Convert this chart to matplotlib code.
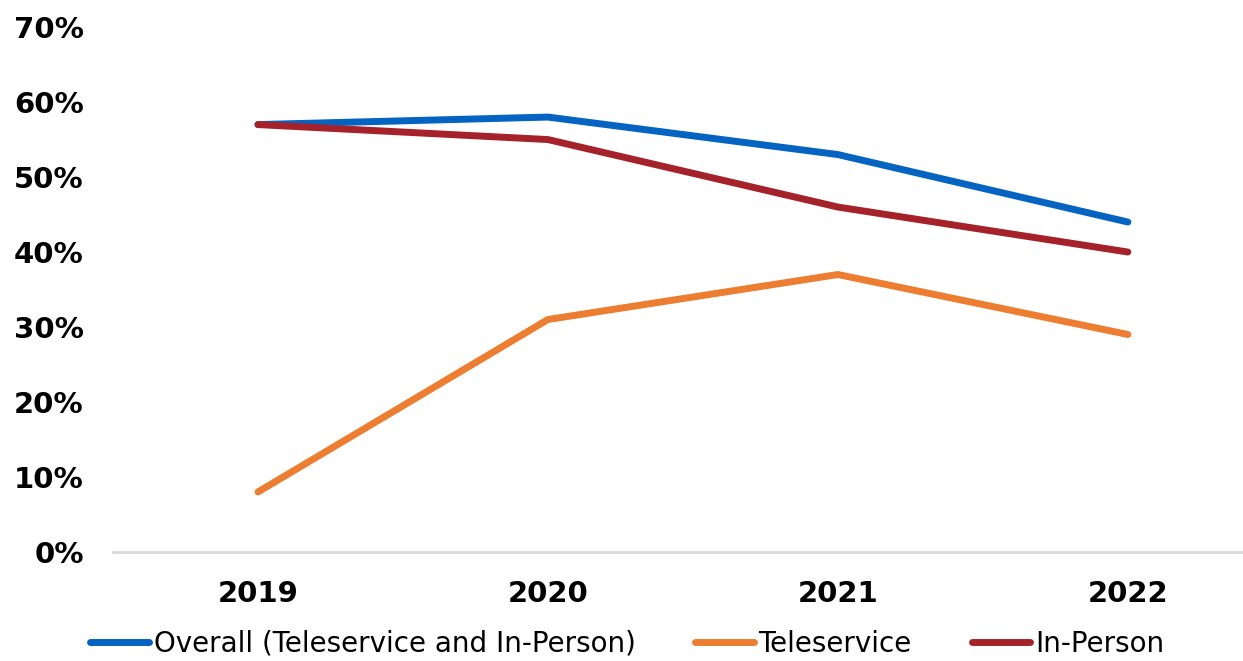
import matplotlib.pyplot as plt
from matplotlib.ticker import FuncFormatter

plt.rcParams['font.family'] = 'DejaVu Sans'

years = ['2019', '2020', '2021', '2022']
overall = [57, 58, 53, 44]
teleservice = [8, 31, 37, 29]
in_person = [57, 55, 46, 40]

series_names = ['Overall (Teleservice and In-Person)', 'Teleservice', 'In-Person']
colors = ['#0563C1', '#ED7D31', '#A5222A']

fig = plt.figure(figsize=(12.43, 6.61), dpi=100)
ax = fig.add_axes([0.0909, 0.165, 0.9091, 0.794])

x = range(len(years))
for vals, name, c in zip([overall, teleservice, in_person], series_names, colors):
    ax.plot(x, vals, color=c, lw=5, solid_capstyle='round', label=name)

ax.set_xlim(-0.5, 3.397)
ax.set_ylim(0, 70)
ax.set_yticks(range(0, 71, 10))
ax.yaxis.set_major_formatter(FuncFormatter(lambda v, p: f'{v:.0f}%'))
ax.set_xticks(list(x))
ax.set_xticklabels(years)

for s in ['top', 'right', 'left']:
    ax.spines[s].set_visible(False)
ax.spines['bottom'].set_color('#D9D9D9')
ax.spines['bottom'].set_linewidth(2)
ax.tick_params(axis='both', length=0, labelsize=21)
ax.tick_params(axis='y', pad=21)
ax.tick_params(axis='x', pad=20)
for lab in ax.get_xticklabels() + ax.get_yticklabels():
    lab.set_fontweight('bold')

ax.legend(loc='center', bbox_to_anchor=(0.455, -0.175), ncol=3, frameon=False,
          fontsize=20, handlelength=2.1, handletextpad=0.18, columnspacing=2.15)

fig.savefig('out.png', dpi=100)
